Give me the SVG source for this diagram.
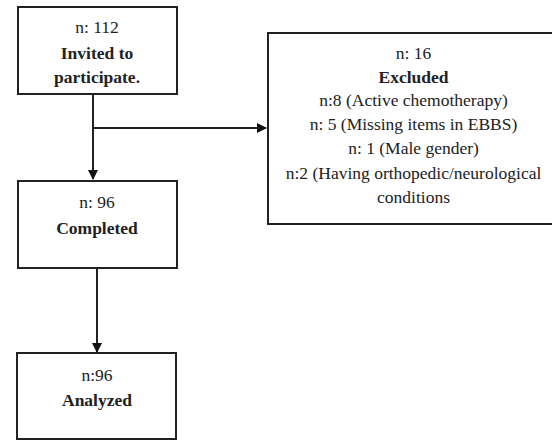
<svg xmlns="http://www.w3.org/2000/svg" width="552" height="441" viewBox="0 0 552 441">
<style>
.box{fill:#fff;stroke:#222;stroke-width:2}
text{font-family:"Liberation Serif","Times New Roman",serif;font-size:17.5px;fill:#222;text-anchor:middle;dominant-baseline:central}
.b{font-weight:bold}
.ln{stroke:#222;stroke-width:2;fill:none}
</style>
<defs>
<marker id="ah" markerWidth="10" markerHeight="10" refX="9" refY="5" orient="auto" markerUnits="userSpaceOnUse">
<path d="M0,0 L10,5 L0,10 z" fill="#111"/>
</marker>
</defs>
<rect width="552" height="441" fill="#fff"/>
<g id="connectors">
<line class="ln" x1="93" y1="94" x2="93" y2="179" marker-end="url(#ah)"/>
<line class="ln" x1="93" y1="128" x2="266" y2="128" marker-end="url(#ah)"/>
<line class="ln" x1="97" y1="268" x2="97" y2="352" marker-end="url(#ah)"/>
</g>
<g id="invited">
<rect class="box" x="18" y="7" width="159" height="87"/>
<text x="97" y="27">n: 112</text>
<text class="b" x="97" y="53">Invited to</text>
<text class="b" x="97" y="77">participate.</text>
</g>
<g id="excluded">
<rect class="box" x="268" y="33" width="292" height="191"/>
<text x="413.5" y="53">n: 16</text>
<text class="b" x="413.5" y="77">Excluded</text>
<text x="413.5" y="100">n:8 (Active chemotherapy)</text>
<text x="413.5" y="124">n: 5 (Missing items in EBBS)</text>
<text x="413.5" y="148">n: 1 (Male gender)</text>
<text x="413.5" y="173">n:2 (Having orthopedic/neurological</text>
<text x="413.5" y="197">conditions</text>
</g>
<g id="completed">
<rect class="box" x="18" y="181" width="159" height="87"/>
<text x="97" y="202">n: 96</text>
<text class="b" x="97" y="228">Completed</text>
</g>
<g id="analyzed">
<rect class="box" x="17" y="353" width="159" height="86"/>
<text x="97" y="375">n:96</text>
<text class="b" x="97" y="400">Analyzed</text>
</g>
</svg>
